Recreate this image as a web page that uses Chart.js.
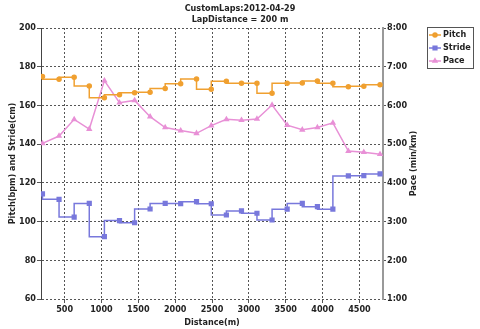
<!DOCTYPE html>
<html>
<head>
<meta charset="utf-8">
<script src="https://cdn.jsdelivr.net/npm/chart.js@4"></script>
<style>
  body { margin: 0; background: #fff; }
</style>
</head>
<body>
<canvas id="grafico" width="480" height="329"></canvas>
<script>
// lap distances (m) and values
const distancias = [200, 425, 630, 835, 1040, 1245, 1450, 1660, 1865, 2075, 2290, 2490,
                    2695, 2900, 3110, 3315, 3520, 3725, 3930, 4140, 4350, 4560, 4780];
const pitch = [175, 173.5, 174.5, 170, 164, 165.5, 166.5, 166.8, 168.7, 171.2, 173.6, 168.3,
               172.5, 171.4, 171.4, 166.3, 171.4, 171.6, 172.6, 171.4, 169.7, 169.9, 170.7];
const stride = [114.3, 111.5, 102.3, 109.4, 92.2, 100.5, 99.4, 106.5, 109.4, 109.3, 110.3, 109.2,
                103.4, 105.5, 104.3, 100.8, 106.4, 109.4, 107.7, 106.4, 123.6, 123.7, 124.6];
// pace in minutes per km
const pace = [5.02, 5.21, 5.64, 5.39, 6.64, 6.07, 6.13, 5.71, 5.43, 5.35, 5.28, 5.48,
              5.64, 5.62, 5.65, 6.01, 5.49, 5.37, 5.43, 5.55, 4.82, 4.79, 4.74];
const xTicks = [500, 1000, 1500, 2000, 2500, 3000, 3500, 4000, 4500];
const tituloLineas = ['CustomLaps:2012-04-29', 'LapDistance = 200 m'];

const FONT = '"DejaVu Sans Condensed", "DejaVu Sans", sans-serif';
const colores = { pitch: '#F0A030', stride: '#7878DC', pace: '#E890D6' };

function puntos(vals) {
    return vals.map((v, i) => ({ x: distancias[i], y: v }));
}

// legend box and right axis title drawn by hand
const extras = {
    id: 'extras',
    afterDraw(chart) {
        const ctx = chart.ctx;
        const area = chart.chartArea;
        ctx.save();
        // right axis title, reads bottom to top
        ctx.font = 'bold 9px ' + FONT;
        ctx.fillStyle = '#222';
        ctx.textAlign = 'center';
        ctx.textBaseline = 'middle';
        ctx.translate(414, (area.top + area.bottom) / 2);
        ctx.rotate(-Math.PI / 2);
        ctx.fillText('Pace (min/km)', 0, 0);
        ctx.restore();

        // legend
        ctx.save();
        ctx.strokeStyle = '#555';
        ctx.lineWidth = 1;
        ctx.strokeRect(427.5, 27.5, 46, 41);
        ctx.font = 'bold 9px ' + FONT;
        ctx.textAlign = 'left';
        ctx.textBaseline = 'middle';
        chart.data.datasets.forEach((ds, i) => {
            const y = 35 + i * 13;
            ctx.strokeStyle = ds.borderColor;
            ctx.lineWidth = 1.5;
            ctx.beginPath();
            ctx.moveTo(429, y);
            ctx.lineTo(441, y);
            ctx.stroke();
            Chart.helpers.drawPoint(ctx, {
                pointStyle: ds.pointStyle, radius: ds.pointRadius, borderWidth: 1, rotation: 0
            }, 435, y);
            ctx.fillStyle = ds.borderColor;
            ctx.fill();
            ctx.fillStyle = '#222';
            ctx.fillText(ds.label, 443, y);
        });
        ctx.restore();
    }
};

const ctx = document.getElementById('grafico').getContext('2d');
new Chart(ctx, {
    type: 'line',
    data: {
        datasets: [{
            label: 'Pitch',
            data: puntos(pitch),
            yAxisID: 'y',
            stepped: 'after',
            borderColor: colores.pitch,
            backgroundColor: colores.pitch,
            borderWidth: 1.5,
            pointStyle: 'circle',
            pointRadius: 2
        }, {
            label: 'Stride',
            data: puntos(stride),
            yAxisID: 'y',
            stepped: 'after',
            borderColor: colores.stride,
            backgroundColor: colores.stride,
            borderWidth: 1.5,
            pointStyle: 'rect',
            pointRadius: 2.6
        }, {
            label: 'Pace',
            data: puntos(pace),
            yAxisID: 'y1',
            borderColor: colores.pace,
            backgroundColor: colores.pace,
            borderWidth: 1.5,
            pointStyle: 'triangle',
            pointRadius: 2.2
        }]
    },
    options: {
        responsive: false,
        animation: false,
        layout: { padding: 0 },
        plugins: {
            legend: { display: false },
            tooltip: { enabled: false },
            title: {
                display: true,
                text: tituloLineas,
                color: '#222',
                font: { family: FONT, size: 9, weight: 'bold', lineHeight: 1.2 },
                padding: { top: 3, bottom: 3.4 }
            }
        },
        scales: {
            x: {
                type: 'linear',
                min: 180,
                max: 4820,
                afterBuildTicks: s => { s.ticks = xTicks.map(v => ({ value: v })); },
                afterFit: s => { s.height = 30; },
                grid: { color: '#555', tickLength: 4, tickColor: '#555' },
                border: { display: false, dash: [2, 2] },
                ticks: {
                    color: '#222', padding: 1, maxRotation: 0,
                    font: { family: FONT, size: 9, weight: 'bold' },
                    callback: v => String(v)
                },
                title: {
                    display: true, text: 'Distance(m)', color: '#222',
                    font: { family: FONT, size: 9, weight: 'bold', lineHeight: 1.2 },
                    padding: { top: 0, bottom: 1 }
                }
            },
            y: {
                position: 'left',
                min: 60,
                max: 200,
                ticks: { stepSize: 20, color: '#222', padding: 1, font: { family: FONT, size: 9, weight: 'bold' } },
                afterFit: s => { s.width = 41; },
                grid: { color: '#555', tickLength: 4, tickColor: '#555' },
                border: { display: true, color: '#444', width: 1, dash: [2, 2] },
                title: {
                    display: true, text: 'Pitch(bpm) and Stride(cm)', color: '#222',
                    font: { family: FONT, size: 9, weight: 'bold', lineHeight: 1.2 },
                    padding: { top: 7, bottom: 0 }
                }
            },
            y1: {
                position: 'right',
                min: 1,
                max: 8,
                ticks: {
                    stepSize: 1, color: '#222', padding: 1,
                    font: { family: FONT, size: 9, weight: 'bold' },
                    callback: v => v + ':00'
                },
                afterFit: s => { s.width = 97; },
                grid: { drawOnChartArea: false, color: '#555', tickLength: 3 },
                border: { display: true, color: '#999', width: 2 }
            }
        }
    },
    plugins: [extras]
});
</script>
</body>
</html>
